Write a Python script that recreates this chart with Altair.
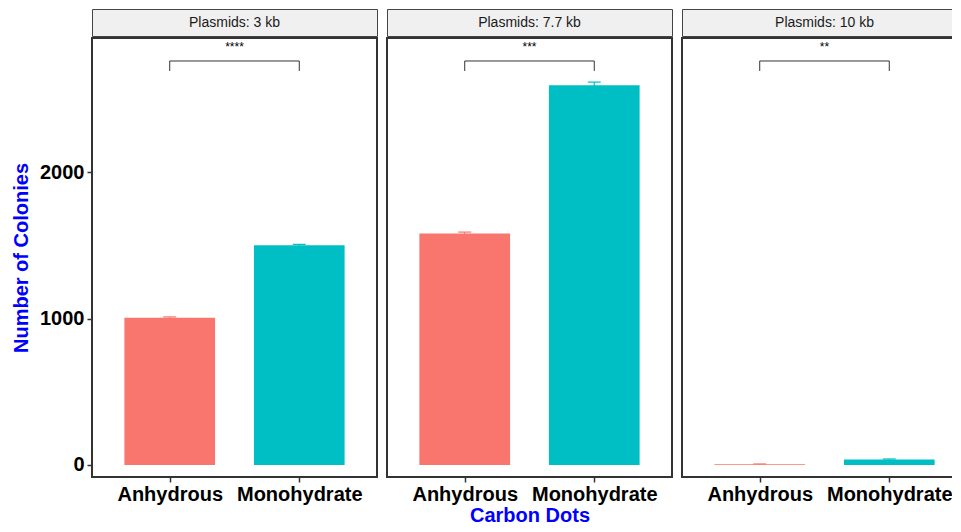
import altair as alt
import pandas as pd

plasmids = ["Plasmids: 3 kb", "Plasmids: 7.7 kb", "Plasmids: 10 kb"]
groups = ["Anhydrous", "Monohydrate"]
group_pos = [1, 2]
anhydrous_mean = [1005, 1580, 5]
anhydrous_sd = [6, 10, 2]
mono_mean = [1500, 2592, 38]
mono_sd = [6, 22, 3]
signif = ["****", "***", "**"]
bracket_top = 2758
bracket_bottom = 2690
signif_y = 2853
y_ticks = [0, 1000, 2000]
colors = ["#F8766D", "#00BFC4"]

FONT = "Liberation Sans"
W, H = 285, 439

xs = alt.Scale(domain=[0.4, 2.6], nice=False, zero=False)
ys = alt.Scale(domain=[-82, 2915], nice=False, zero=False)


def make_x_axis(with_title):
    kw = dict(
        values=group_pos,
        labelExpr="datum.value == 1 ? 'Anhydrous' : 'Monohydrate'",
        labelFont=FONT, labelFontSize=20, labelFontWeight="bold", labelColor="black",
        labelPadding=2, tickSize=5, tickColor="#333333", tickWidth=1.5,
        domain=False, grid=False, labelAngle=0,
        titleFont=FONT, titleFontSize=20, titleFontWeight="bold", titleColor="#0000FF",
        titlePadding=1,
    )
    kw["title"] = "Carbon Dots" if with_title else None
    return alt.Axis(**kw)


def make_y_axis():
    return alt.Axis(
        values=y_ticks, title="Number of Colonies", format="d",
        labelFont=FONT, labelFontSize=20, labelFontWeight="bold", labelColor="black",
        labelPadding=3, tickSize=5, tickColor="#333333", tickWidth=1.5,
        domain=False, grid=False,
        titleFont=FONT, titleFontSize=20, titleFontWeight="bold", titleColor="#0000FF",
        titlePadding=8,
    )


def panel(i):
    xa = make_x_axis(i == 1)
    ya = make_y_axis() if i == 0 else None

    def X(f):
        return alt.X(f, type="quantitative", scale=xs, axis=xa)

    def Y(f):
        if ya is None:
            return alt.Y(f, type="quantitative", scale=ys, axis=None)
        return alt.Y(f, type="quantitative", scale=ys, axis=ya)

    df = pd.DataFrame({
        "group": groups,
        "pos": group_pos,
        "mean": [anhydrous_mean[i], mono_mean[i]],
        "sd": [anhydrous_sd[i], mono_sd[i]],
    })
    color = alt.Color("group:N", scale=alt.Scale(domain=groups, range=colors), legend=None)
    base = alt.Chart(df).transform_calculate(
        left="datum.pos - 0.35", right="datum.pos + 0.35",
        lo="datum.mean - datum.sd", hi="datum.mean + datum.sd",
        capl="datum.pos - 0.05", capr="datum.pos + 0.05",
    )
    bars = base.mark_bar().encode(x=X("left"), x2="right:Q", y=Y("mean"), y2=alt.datum(0), color=color)
    err = base.mark_rule(strokeWidth=1.2).encode(x=X("pos"), y=Y("lo"), y2="hi:Q", color=color)
    cap = base.mark_rule(strokeWidth=1.2).encode(x=X("capl"), x2="capr:Q", y=Y("hi"), color=color)

    br = pd.DataFrame({"x1": [group_pos[0]], "x2": [group_pos[1]], "top": [bracket_top],
                       "bottom": [bracket_bottom], "label": [signif[i]], "ly": [signif_y]})
    brb = alt.Chart(br).transform_calculate(mid="(datum.x1 + datum.x2) / 2")
    hline = brb.mark_rule(color="#333333", strokeWidth=1).encode(x=X("x1"), x2="x2:Q", y=Y("top"))
    lt = brb.mark_rule(color="#333333", strokeWidth=1).encode(x=X("x1"), y=Y("bottom"), y2="top:Q")
    rt = brb.mark_rule(color="#333333", strokeWidth=1).encode(x=X("x2"), y=Y("bottom"), y2="top:Q")
    txt = brb.mark_text(font=FONT, fontSize=12, color="black", baseline="middle").encode(
        x=X("mid"), y=Y("ly"), text="label:N")

    plot = alt.layer(bars, err, cap, hline, lt, rt, txt).properties(
        width=W, height=H,
        view=alt.ViewBackground(fill="white", stroke="#333333", strokeWidth=2),
    )

    strip = alt.Chart(pd.DataFrame({"label": [plasmids[i]]})).mark_text(
        font=FONT, fontSize=14, color="#1A1A1A", baseline="middle"
    ).encode(text="label:N").properties(
        width=W, height=27,
        view=alt.ViewBackground(fill="#F0F0F0", stroke="#444444", strokeWidth=1),
    )
    return alt.vconcat(strip, plot, spacing=0)


chart = alt.hconcat(panel(0), panel(1), panel(2), spacing=8).properties(
    padding={"left": 2, "top": 0, "right": -16, "bottom": 0},
    background="white",
)

chart.save("out.html", embed_options={"renderer": "svg", "actions": False})
